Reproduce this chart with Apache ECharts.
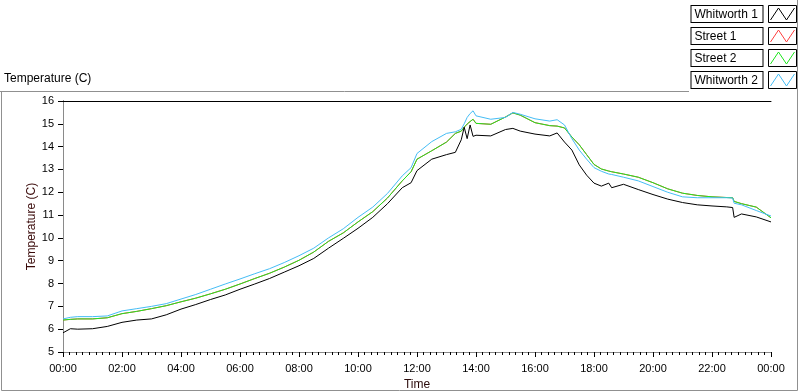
<!DOCTYPE html>
<html>
<head>
<meta charset="utf-8">
<script src="https://cdn.jsdelivr.net/npm/echarts@6/dist/echarts.min.js"></script>
<style>
  html, body { margin: 0; padding: 0; background: #fff; }
  #chart { width: 800px; height: 392px; }
</style>
</head>
<body>
<div id="chart"></div>
<script>
// time of day in hours
const hours = [0, 0.25, 0.5, 1, 1.5, 2, 2.5, 3, 3.5, 4, 4.5, 5, 5.5, 6, 6.5, 7, 7.5, 8, 8.5, 9,
  9.5, 10, 10.5, 11, 11.5, 11.8, 12, 12.5, 13, 13.3, 13.5, 13.6, 13.7, 13.8, 13.9, 14, 14.5, 15, 15.25, 15.5,
  16, 16.5, 16.75, 17, 17.25, 17.5, 17.75, 18, 18.25, 18.5, 18.6, 19, 19.5, 20, 20.5, 21, 21.5, 22, 22.5, 22.7,
  22.75, 23, 23.5, 24];

const whitworth1 = [5.84, 6.02, 6.0, 6.02, 6.12, 6.3, 6.4, 6.45, 6.63, 6.88, 7.08, 7.3, 7.5, 7.75, 7.98, 8.22, 8.5, 8.78, 9.1, 9.55,
  9.98, 10.42, 10.9, 11.5, 12.2, 12.42, 12.95, 13.45, 13.65, 13.75, 14.3, 14.85, 14.35, 14.95, 14.45, 14.5, 14.47, 14.75, 14.8, 14.68,
  14.55, 14.47, 14.6, 14.2, 13.85, 13.2, 12.75, 12.4, 12.27, 12.4, 12.2, 12.35, 12.12, 11.9, 11.7, 11.55, 11.45, 11.4, 11.36, 11.33,
  10.9, 11.05, 10.92, 10.7];

const street1 = [6.4, 6.43, 6.45, 6.45, 6.5, 6.68, 6.78, 6.9, 7.03, 7.2, 7.36, 7.55, 7.75, 7.98, 8.22, 8.45, 8.72, 9.02, 9.38, 9.85,
  10.22, 10.7, 11.15, 11.75, 12.5, 12.9, 13.45, 13.82, 14.2, 14.58, 14.68, 14.85, 14.99, 15.1, 15.2, 15.02, 14.98, 15.3, 15.48, 15.38,
  15.05, 14.92, 14.9, 14.82, 14.42, 14.08, 13.65, 13.22, 13.02, 12.93, 12.9, 12.8, 12.66, 12.42, 12.15, 11.96, 11.86, 11.8, 11.77, 11.76,
  11.6, 11.5, 11.35, 10.88];

const street2 = [6.4, 6.43, 6.45, 6.45, 6.5, 6.68, 6.78, 6.9, 7.03, 7.2, 7.36, 7.55, 7.75, 7.98, 8.22, 8.45, 8.72, 9.02, 9.38, 9.85,
  10.22, 10.7, 11.15, 11.75, 12.5, 12.9, 13.45, 13.82, 14.2, 14.58, 14.68, 14.85, 14.99, 15.1, 15.2, 15.02, 14.98, 15.3, 15.48, 15.38,
  15.05, 14.92, 14.9, 14.82, 14.42, 14.08, 13.65, 13.22, 13.02, 12.93, 12.9, 12.8, 12.66, 12.42, 12.15, 11.96, 11.86, 11.8, 11.77, 11.76,
  11.6, 11.5, 11.35, 10.88];

const whitworth2 = [6.45, 6.52, 6.55, 6.55, 6.58, 6.8, 6.9, 7.0, 7.12, 7.32, 7.52, 7.75, 7.98, 8.2, 8.43, 8.65, 8.92, 9.22, 9.55, 10.0,
  10.4, 10.9, 11.35, 11.95, 12.72, 13.08, 13.7, 14.22, 14.58, 14.65, 14.76, 15.0, 15.28, 15.45, 15.57, 15.35, 15.2, 15.28, 15.5, 15.42,
  15.22, 15.12, 15.18, 14.95, 14.35, 13.85, 13.45, 13.08, 12.92, 12.8, 12.78, 12.66, 12.5, 12.25, 12.0, 11.8, 11.76, 11.76, 11.76, 11.75,
  11.52, 11.45, 11.2, 10.96];

const seriesNames = ['Whitworth 1', 'Street 1', 'Street 2', 'Whitworth 2'];
const seriesColors = ['#000000', '#ff4040', '#1ee61e', '#45bdf5'];
const seriesData = [whitworth1, street1, street2, whitworth2];

const FONT = 'Liberation Sans';

function timeLabel(v) {
  const h = Math.round(v) % 24;
  return (h < 10 ? '0' : '') + h + ':00';
}

const chart = echarts.init(document.getElementById('chart'));

// legend swatch frames and panel edges
const graphics = [
  { type: 'polyline', shape: { points: [[0, 91.5], [689, 91.5]] }, style: { stroke: '#909090', lineWidth: 1 }, silent: true },
  { type: 'polyline', shape: { points: [[1.5, 91.5], [1.5, 390.5], [797.5, 390.5], [797.5, 0]] }, style: { stroke: '#909090', fill: null, lineWidth: 1 }, silent: true }
];
seriesNames.forEach((n, i) => {
  graphics.push({
    type: 'rect',
    shape: { x: 768.5, y: 5.5 + i * 22, width: 28, height: 17 },
    style: { stroke: '#000', fill: null, lineWidth: 1 },
    silent: true
  });
});

chart.setOption({
  animation: false,
  backgroundColor: '#fff',
  title: {
    text: 'Temperature (C)',
    left: 4, top: 73, padding: 0,
    textStyle: { fontFamily: FONT, fontSize: 12, fontWeight: 'normal', color: '#000' }
  },
  legend: {
    data: seriesNames.map((n, i) => ({
      name: n,
      icon: 'path://M0,12L8,0L16,12L24,0',
      itemStyle: { color: 'rgba(0,0,0,0)', borderColor: seriesColors[i], borderWidth: 1 }
    })),
    orient: 'vertical',
    right: 5, top: 5, padding: 0,
    align: 'right',
    itemWidth: 30, itemHeight: 12, itemGap: 4,
    selectedMode: false,
    formatter: n => '{b|' + n + '}',
    textStyle: {
      rich: {
        b: {
          width: 65, height: 13, lineHeight: 13, align: 'left',
          padding: [2, 3, 1, 3],
          borderColor: '#000', borderWidth: 1, backgroundColor: '#fff',
          fontFamily: FONT, fontSize: 12, color: '#000'
        }
      }
    }
  },
  graphic: graphics,
  grid: { left: 63, right: 29, top: 101, bottom: 40, show: false, outerBoundsMode: 'none', containLabel: false },
  xAxis: [{
    type: 'value', min: 0, max: 24, interval: 2,
    name: 'Time', nameLocation: 'middle', nameGap: 27, nameMoveOverlap: false,
    nameTextStyle: { fontFamily: FONT, fontSize: 12, color: '#2a0a0a' },
    axisLine: { lineStyle: { color: '#8a8a8a' } },
    axisTick: { length: 5, lineStyle: { color: '#000' } },
    minorTick: { show: true, splitNumber: 9, length: 3, lineStyle: { color: '#000' } },
    axisLabel: { formatter: timeLabel, margin: 11, fontFamily: FONT, fontSize: 11, color: '#000' },
    splitLine: { show: false }
  }, {
    type: 'value', min: 0, max: 24, position: 'top',
    axisLine: { show: true, lineStyle: { color: '#000' } },
    axisTick: { show: false }, axisLabel: { show: false }, splitLine: { show: false }
  }],
  yAxis: [{
    type: 'value', min: 5, max: 16, interval: 1,
    name: 'Temperature (C)', nameLocation: 'middle', nameGap: 25, nameMoveOverlap: false,
    nameTextStyle: { fontFamily: FONT, fontSize: 12, color: '#3a0a0a' },
    axisLine: { show: true, lineStyle: { color: '#000' } },
    axisTick: { show: true, length: 5, lineStyle: { color: '#000' } },
    axisLabel: { margin: 9, fontFamily: FONT, fontSize: 11, color: '#000' },
    splitLine: { show: false }
  }, {
    type: 'value', min: 5, max: 16, position: 'right',
    axisLine: { show: true, lineStyle: { color: '#8a8a8a' } },
    axisTick: { show: false }, axisLabel: { show: false }, splitLine: { show: false }
  }],
  series: seriesNames.map((name, i) => ({
    name: name,
    type: 'line',
    color: seriesColors[i],
    data: hours.map((h, j) => [h, seriesData[i][j]]),
    showSymbol: false,
    symbol: 'none',
    lineStyle: { width: 1, color: seriesColors[i] },
    z: i === 0 ? 5 : 2 + i * 0.1
  }))
});
</script>
</body>
</html>
